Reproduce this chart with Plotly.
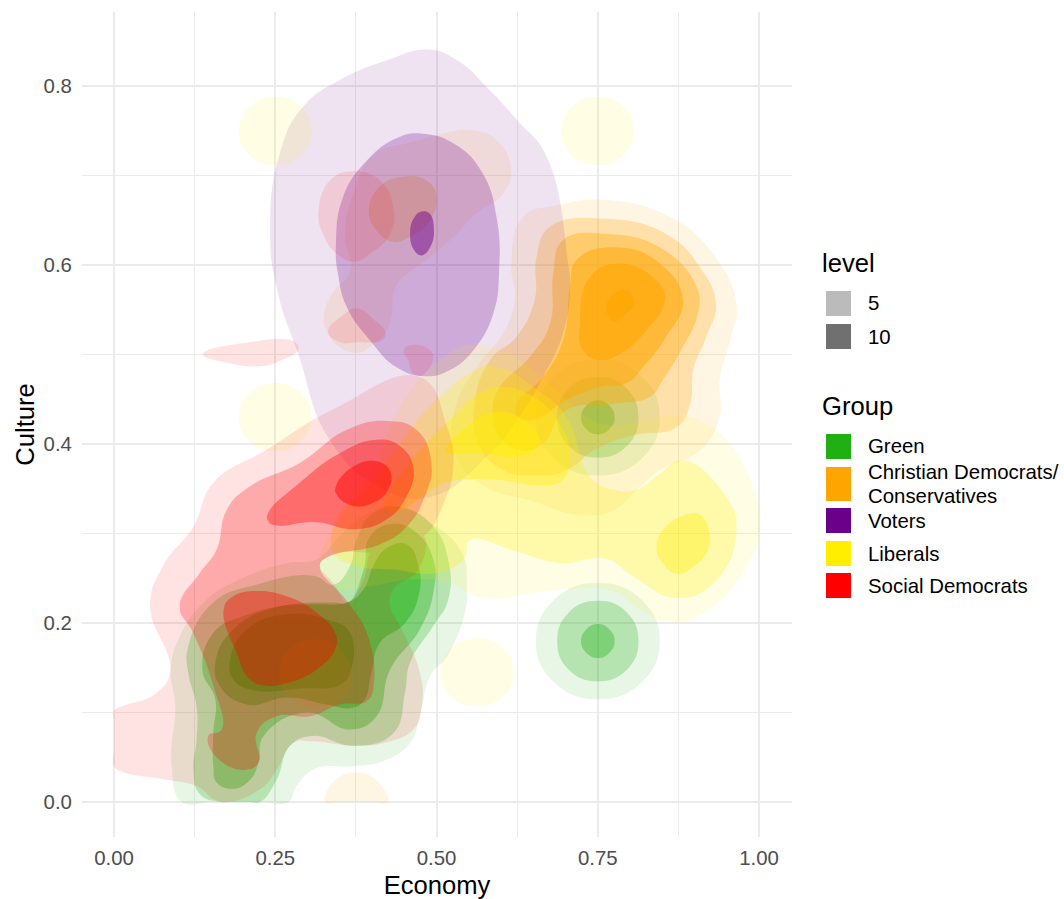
import plotly.graph_objects as go

CD = "Christian Democrats/<br>Conservatives"
GROUP_COLORS = {"Green": "#20B014", CD: "#FFA500", "Voters": "#6A008A", "Liberals": "#FFEE00", "Social Democrats": "#FF0000"}
LEVEL_ALPHA = {2: .11, 4: .25, 6: .36, 8: .47, 10: .58, 12: .70}

# ---- Green: contours as (economy, culture)
green_2 = [(.105,0),(.089,.044),(.095,.107),(.088,.148),(.100,.182),(.139,.223),(.195,.249),(.268,.267),(.314,.271),(.350,.297),(.387,.320),(.433,.331),(.495,.310),(.539,.279),(.547,.238),(.544,.212),(.516,.163),(.490,.141),(.474,.096),(.459,.066),(.418,.046),(.371,.040),(.314,.038),(.283,.018),(.270,0),(.23,0),(.19,0),(.15,0)]
green_4 = [(.123,.036),(.133,.009),(.164,0),(.18,0),(.21,0),(.226,0),(.252,.025),(.273,.063),(.309,.074),(.371,.063),(.433,.077),(.451,.122),(.459,.156),(.495,.197),(.518,.226),(.518,.271),(.495,.308),(.449,.329),(.402,.323),(.376,.293),(.366,.264),(.340,.243),(.309,.253),(.221,.243),(.154,.223),(.115,.174),(.115,.145),(.128,.107),(.128,.070)]
green_6 = [(.154,.040),(.159,.022),(.185,.015),(.211,.025),(.224,.044),(.232,.074),(.299,.100),(.366,.081),(.407,.096),(.428,.148),(.474,.193),(.495,.234),(.495,.271),(.469,.301),(.433,.311),(.397,.297),(.387,.260),(.363,.223),(.340,.223),(.278,.221),(.201,.208),(.154,.189),(.137,.148),(.157,.115),(.154,.077)]
green_8 = [(.402,.264),(.423,.284),(.454,.288),(.472,.264),(.472,.230),(.451,.200),(.412,.178),(.399,.145),(.387,.113),(.366,.105),(.330,.109),(.268,.117),(.206,.109),(.164,.130),(.158,.159),(.185,.193),(.247,.217),(.309,.221),(.361,.223),(.387,.238)]
green_10a = [(.180,.159),(.206,.193),(.268,.210),(.330,.204),(.366,.189),(.366,.145),(.350,.131),(.288,.127),(.216,.125),(.185,.137)]
green_low_2 = [(.846,.18),(.818,.226),(.75,.245),(.682,.226),(.654,.18),(.682,.134),(.75,.115),(.818,.134)]
green_low_4 = [(.813,.18),(.795,.212),(.75,.225),(.705,.212),(.687,.18),(.705,.148),(.75,.135),(.795,.148)]
green_low_6 = [(.776,.18),(.768,.193),(.75,.199),(.732,.193),(.724,.18),(.732,.167),(.75,.161),(.768,.167)]
green_up_2 = [(.846,.43),(.818,.476),(.75,.495),(.682,.476),(.654,.43),(.682,.384),(.75,.365),(.818,.384)]
green_up_4 = [(.813,.43),(.795,.462),(.75,.475),(.705,.462),(.687,.43),(.705,.398),(.75,.385),(.795,.398)]
green_up_6 = [(.776,.43),(.768,.443),(.75,.449),(.732,.443),(.724,.43),(.732,.417),(.75,.411),(.768,.417)]

# ---- Christian Democrats / Conservatives
orange_2 = [(.616,.602),(.634,.654),(.686,.667),(.763,.673),(.856,.656),(.924,.617),(.965,.557),(.955,.516),(.939,.472),(.939,.431),(.908,.393),(.846,.371),(.810,.349),(.774,.326),(.722,.321),(.650,.336),(.567,.356),(.528,.393),(.528,.438),(.562,.486),(.603,.524),(.621,.561)]
orange_4 = [(.655,.609),(.676,.643),(.763,.652),(.856,.635),(.908,.598),(.933,.557),(.918,.520),(.898,.483),(.893,.445),(.872,.419),(.805,.410),(.748,.395),(.701,.371),(.650,.365),(.598,.373),(.565,.401),(.559,.445),(.583,.494),(.624,.520),(.652,.561)]
orange_6 = [(.681,.591),(.696,.628),(.763,.635),(.846,.620),(.903,.576),(.905,.546),(.882,.509),(.851,.472),(.831,.453),(.774,.445),(.701,.438),(.665,.401),(.634,.393),(.598,.408),(.587,.438),(.598,.464),(.645,.498),(.676,.535)]
orange_8 = [(.707,.576),(.717,.606),(.779,.620),(.846,.602),(.882,.561),(.856,.520),(.820,.486),(.794,.468),(.753,.464),(.701,.449),(.650,.427),(.627,.431),(.624,.445),(.665,.475),(.696,.516)]
orange_10 = [(.722,.535),(.738,.587),(.784,.602),(.841,.583),(.854,.561),(.825,.527),(.789,.503),(.753,.494),(.727,.505)]
orange_12 = [(.763,.553),(.774,.568),(.794,.572),(.806,.559),(.794,.546),(.774,.537),(.766,.544)]
orange_top_2 = [(.325,.539),(.335,.565),(.366,.594),(.358,.635),(.373,.684),(.402,.723),(.464,.738),(.510,.747),(.552,.751),(.593,.740),(.616,.706),(.603,.680),(.562,.658),(.531,.635),(.490,.609),(.443,.583),(.433,.568),(.430,.542),(.420,.524),(.402,.512),(.376,.502),(.345,.511),(.330,.526)]
orange_top_4 = [(.395,.661),(.412,.688),(.448,.699),(.484,.695),(.499,.680),(.490,.650),(.459,.632),(.433,.626),(.407,.639)]
orange_low_2 = [(.257,.144),(.273,.171),(.314,.182),(.350,.171),(.368,.141),(.356,.117),(.314,.105),(.273,.117)]
orange_edge_2 = [(.327,0),(.335,.018),(.352,.029),(.375,.033),(.398,.029),(.415,.018),(.424,0),(.40,0),(.35,0)]

# ---- Voters
voters_2 = [(.242,.639),(.257,.725),(.293,.777),(.350,.807),(.423,.829),(.485,.841),(.532,.829),(.578,.799),(.625,.762),(.671,.721),(.704,.602),(.707,.572),(.696,.524),(.665,.475),(.625,.427),(.583,.390),(.490,.341),(.412,.352),(.335,.404),(.285,.502),(.253,.572)]
voters_4 = [(.344,.624),(.355,.676),(.392,.717),(.438,.742),(.479,.747),(.531,.734),(.572,.702),(.593,.654),(.597,.594),(.588,.546),(.557,.505),(.521,.483),(.482,.476),(.438,.486),(.397,.516),(.361,.553),(.348,.587)]
voters_8 = [(.459,.637),(.466,.654),(.477,.660),(.489,.658),(.496,.639),(.490,.620),(.477,.611),(.465,.617)]

# ---- Liberals
liberals_2 = [(.474,.473),(.505,.494),(.552,.511),(.598,.505),(.650,.483),(.696,.453),(.753,.423),(.805,.423),(.872,.432),(.918,.423),(.965,.390),(.997,.337),(1.002,.315),(.978,.259),(.909,.209),(.862,.201),(.816,.215),(.769,.237),(.691,.237),(.567,.229),(.521,.245),(.469,.249),(.392,.241),(.350,.239),(.319,.264),(.356,.323),(.407,.379),(.433,.428)]
liberals_4 = [(.350,.323),(.392,.349),(.443,.401),(.495,.446),(.567,.485),(.598,.486),(.650,.464),(.701,.431),(.738,.363),(.774,.349),(.810,.349),(.846,.367),(.882,.382),(.949,.341),(.965,.304),(.934,.248),(.872,.228),(.805,.252),(.763,.272),(.691,.267),(.624,.280),(.552,.293),(.542,.271),(.500,.256),(.433,.260),(.376,.264),(.340,.279)]
liberals_6 = [(.418,.329),(.454,.375),(.484,.401),(.521,.427),(.583,.462),(.650,.453),(.696,.416),(.707,.386),(.696,.360),(.670,.354),(.598,.360),(.562,.361),(.510,.356),(.474,.339),(.440,.325)]
liberals_8 = [(.514,.391),(.546,.419),(.593,.436),(.634,.427),(.660,.404),(.650,.393),(.619,.386),(.577,.390),(.526,.390)]
liberals_right_6 = [(.841,.283),(.851,.304),(.882,.320),(.908,.321),(.924,.296),(.918,.278),(.898,.263),(.872,.255),(.851,.267)]
liberals_dot_a = [(.306,.75),(.29,.777),(.25,.788),(.21,.777),(.194,.75),(.21,.723),(.25,.712),(.29,.723)]
liberals_dot_b = [(.806,.75),(.79,.777),(.75,.788),(.71,.777),(.694,.75),(.71,.723),(.75,.712),(.79,.723)]
liberals_dot_c = [(.306,.43),(.29,.457),(.25,.468),(.21,.457),(.194,.43),(.21,.403),(.25,.392),(.29,.403)]
liberals_dot_d = [(.619,.145),(.603,.172),(.5625,.183),(.522,.172),(.506,.145),(.522,.118),(.5625,.107),(.603,.118)]

# ---- Social Democrats (social_2 carries a hole beside the green lobe, reached through a zero-width channel)
social_2 = [(.480,.297),(.472,.260),(.433,.238),(.428,.219),(.443,.197),(.474,.145),(.477,.107),(.464,.081),(.418,.066),(.371,.063),(.309,.068),(.278,.066),(.252,.036),(.226,.014),(.164,.001),(.128,.018),(.082,.025),(.012,.034),(0,.04),(0,.06),(0,.09),(0,.102),(.012,.107),(.066,.122),(.087,.148),(.056,.219),(.076,.264),(.123,.308),(.154,.357),(.237,.394),(.340,.439),(.474,.475),(.516,.420),(.526,.375),(.511,.334),(.480,.297),(.418,.280),(.350,.279),(.325,.271),(.319,.264),(.340,.245),(.363,.223),(.387,.249),(.399,.279),(.418,.280)]
social_4 = [(.102,.219),(.123,.189),(.154,.130),(.167,.081),(.146,.074),(.159,.050),(.201,.036),(.224,.044),(.221,.077),(.252,.096),(.304,.096),(.350,.109),(.392,.113),(.403,.133),(.392,.189),(.363,.223),(.319,.264),(.335,.275),(.412,.288),(.454,.308),(.482,.342),(.492,.379),(.469,.416),(.423,.426),(.361,.416),(.288,.379),(.211,.353),(.175,.327),(.159,.282),(.133,.256)]
social_6a = [(.239,.323),(.288,.357),(.350,.390),(.407,.405),(.443,.398),(.464,.374),(.454,.342),(.423,.316),(.376,.305),(.309,.313),(.252,.309),(.239,.314)]
social_6b = [(.170,.215),(.185,.230),(.221,.236),(.268,.230),(.314,.212),(.343,.189),(.343,.171),(.314,.148),(.268,.133),(.237,.130),(.211,.137),(.190,.167)]
social_8 = [(.344,.353),(.371,.375),(.407,.381),(.428,.370),(.425,.349),(.397,.333),(.366,.332),(.345,.344)]
social_strip_2 = [(.139,.502),(.201,.513),(.278,.515),(.286,.506),(.257,.493),(.226,.487),(.175,.491),(.139,.499)]
social_up_2a = [(.317,.660),(.335,.695),(.371,.705),(.412,.695),(.433,.665),(.428,.635),(.397,.613),(.373,.604),(.345,.613),(.324,.635)]
social_up_2b = [(.332,.526),(.355,.544),(.376,.552),(.402,.540),(.421,.524),(.415,.516),(.376,.514),(.350,.514)]
social_up_2c = [(.449,.505),(.464,.511),(.490,.505),(.495,.496),(.477,.477),(.464,.479),(.456,.494)]

CONTOURS = [
    ("Green", 2, green_2), ("Green", 4, green_4), ("Green", 6, green_6), ("Green", 8, green_8), ("Green", 10, green_10a),
    ("Green", 2, green_low_2), ("Green", 4, green_low_4), ("Green", 6, green_low_6),
    ("Green", 2, green_up_2), ("Green", 4, green_up_4), ("Green", 6, green_up_6),
    (CD, 2, orange_2), (CD, 4, orange_4), (CD, 6, orange_6), (CD, 8, orange_8), (CD, 10, orange_10), (CD, 12, orange_12),
    (CD, 2, orange_top_2), (CD, 4, orange_top_4), (CD, 2, orange_low_2), (CD, 2, orange_edge_2),
    ("Voters", 2, voters_2), ("Voters", 4, voters_4), ("Voters", 8, voters_8),
    ("Liberals", 2, liberals_2), ("Liberals", 4, liberals_4), ("Liberals", 6, liberals_6), ("Liberals", 8, liberals_8),
    ("Liberals", 6, liberals_right_6), ("Liberals", 2, liberals_dot_a), ("Liberals", 2, liberals_dot_b),
    ("Liberals", 2, liberals_dot_c), ("Liberals", 2, liberals_dot_d),
    ("Social Democrats", 2, social_2), ("Social Democrats", 4, social_4), ("Social Democrats", 6, social_6a),
    ("Social Democrats", 6, social_6b), ("Social Democrats", 8, social_8), ("Social Democrats", 2, social_strip_2),
    ("Social Democrats", 2, social_up_2a), ("Social Democrats", 2, social_up_2b), ("Social Democrats", 2, social_up_2c),
]

X_TICKS = [0, .25, .5, .75, 1]
X_LABELS = ["0.00", "0.25", "0.50", "0.75", "1.00"]
Y_TICKS = [0, .2, .4, .6, .8]
Y_LABELS = ["0.0", "0.2", "0.4", "0.6", "0.8"]
LEVEL_LEGEND = [("5", "#BBBBBB", 291, 316), ("10", "#707070", 324, 349)]
GROUP_LEGEND = [("Green", 434, 459), (CD, 467, 501), ("Voters", 508, 533), ("Liberals", 541, 566), ("Social Democrats", 573, 598)]

W, H = 1064, 899
L, R, T, B = 82, 272, 12, 62
FONT = "Liberation Sans"
TICK_SIZE, KEY_SIZE, TITLE_SIZE = 20.4, 20.4, 25.6


def rgba(hex_color, a):
    r, g, b = int(hex_color[1:3], 16), int(hex_color[3:5], 16), int(hex_color[5:7], 16)
    return f"rgba({r},{g},{b},{a})"


def to_paper(px, py):
    return (px - L) / (W - L - R), 1 - (py - T) / (H - T - B)


fig = go.Figure()
for group, level, pts in CONTOURS:
    closed = list(pts) + [pts[0]]
    fig.add_trace(go.Scatter(
        x=[p[0] for p in closed], y=[p[1] for p in closed], mode="lines",
        line=dict(width=0, shape="spline", smoothing=1.3), fill="toself",
        fillcolor=rgba(GROUP_COLORS[group], LEVEL_ALPHA[level]),
        hoverinfo="skip", showlegend=False, name=group.replace("<br>", " ")))

shapes, notes = [], []


def label(text, px, py, size):
    xp, yp = to_paper(px, py)
    notes.append(dict(text=text, xref="paper", yref="paper", x=xp, y=yp, showarrow=False,
                      font=dict(family=FONT, size=size, color="#000000"), xanchor="left", yanchor="middle",
                      align="left"))


def swatch(color, y0, y1):
    x0p, y0p = to_paper(826, y0)
    x1p, y1p = to_paper(851, y1)
    shapes.append(dict(type="rect", xref="paper", yref="paper", x0=x0p, x1=x1p, y0=y0p, y1=y1p,
                       line=dict(width=0), fillcolor=color, layer="above"))


label("level", 820, 263, TITLE_SIZE)
for text, color, y0, y1 in LEVEL_LEGEND:
    swatch(color, y0, y1)
    label(text, 866, (y0 + y1) / 2, KEY_SIZE)
label("Group", 820, 406, TITLE_SIZE)
for name, y0, y1 in GROUP_LEGEND:
    swatch(GROUP_COLORS[name], y0, y1)
    lines = name.split("<br>")
    if len(lines) == 2:
        label(lines[0], 866, (y0 + y1) / 2 - 12, KEY_SIZE)
        label(lines[1], 866, (y0 + y1) / 2 + 12, KEY_SIZE)
    else:
        label(name, 866, (y0 + y1) / 2, KEY_SIZE)

fig.update_layout(
    width=W, height=H, margin=dict(l=L, r=R, t=T, b=B, pad=0, autoexpand=False),
    plot_bgcolor="white", paper_bgcolor="white", showlegend=False,
    font=dict(family=FONT), shapes=shapes, annotations=notes,
    xaxis=dict(range=[-.0496, 1.051], tickvals=X_TICKS, ticktext=X_LABELS, showline=False, zeroline=False,
               gridcolor="#EBEBEB", gridwidth=2, ticks="outside", ticklen=3, tickcolor="rgba(0,0,0,0)",
               tickfont=dict(size=TICK_SIZE, color="#4D4D4D", family=FONT),
               minor=dict(tickvals=[.125, .375, .625, .875], showgrid=True, gridcolor="#EBEBEB", gridwidth=1, ticks=""),
               title=dict(text="Economy", font=dict(size=TITLE_SIZE, color="#000000", family=FONT), standoff=11)),
    yaxis=dict(range=[-.039, .883], tickvals=Y_TICKS, ticktext=Y_LABELS, showline=False, zeroline=False,
               gridcolor="#EBEBEB", gridwidth=2, ticks="outside", ticklen=5, tickcolor="rgba(0,0,0,0)",
               tickfont=dict(size=TICK_SIZE, color="#4D4D4D", family=FONT),
               minor=dict(tickvals=[.1, .3, .5, .7], showgrid=True, gridcolor="#EBEBEB", gridwidth=1, ticks=""),
               title=dict(text="Culture", font=dict(size=TITLE_SIZE, color="#000000", family=FONT), standoff=1)),
)

fig.write_html("out.html", config={"displayModeBar": False}, post_script="document.body.style.margin='0';")
